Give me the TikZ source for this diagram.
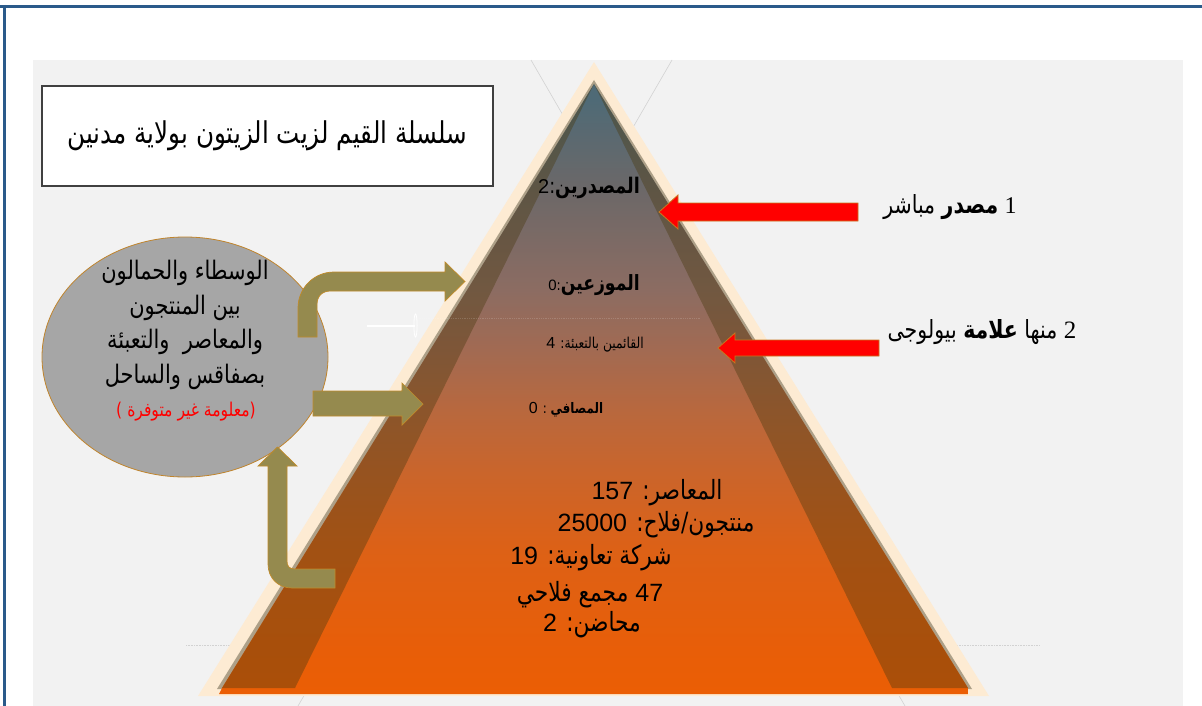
\documentclass[tikz,border=0pt]{standalone}
\usepackage{fontspec}
\setmainfont{Liberation Sans}
\newfontfamily\ar[Script=Arabic, FakeStretch=0.82]{DejaVu Sans}
\newfontfamily\lat{Liberation Sans}
\newfontfamily\tms{Liberation Serif}
\TeXXeTstate=1
\usetikzlibrary{shapes.geometric}
\definecolor{frameblue}{HTML}{2A5A8A}
\definecolor{panel}{HTML}{F2F2F2}
\definecolor{cream}{HTML}{FDEBD3}
\definecolor{tanrim}{HTML}{ADA088}
\definecolor{bandc}{HTML}{4A3A10}
\definecolor{olive}{HTML}{958A4E}
\definecolor{olivebord}{HTML}{C08A2A}
\definecolor{circfill}{HTML}{A6A6A6}
\definecolor{circbord}{HTML}{C0842C}
\definecolor{redbord}{HTML}{C8781E}
\definecolor{titlebord}{HTML}{404040}
\definecolor{pA}{HTML}{EB5E04}
\definecolor{pB}{HTML}{E85E08}
\definecolor{pC}{HTML}{DD6116}
\definecolor{pD}{HTML}{C9652C}
\definecolor{pE}{HTML}{B8683E}
\definecolor{pF}{HTML}{A26A52}
\definecolor{pG}{HTML}{8C6C62}
\definecolor{pH}{HTML}{6C6868}
\definecolor{pI}{HTML}{4F6A76}
\pgfdeclareverticalshading{pyrshade}{100bp}{color(0bp)=(pA); color(25bp)=(pA); color(28.6bp)=(pB); color(36.8bp)=(pC); color(43.4bp)=(pD); color(48.3bp)=(pE); color(53.2bp)=(pF); color(58.1bp)=(pG); color(66.3bp)=(pH); color(73.7bp)=(pI); color(75bp)=(pI); color(100bp)=(pI)}
\tikzset{
  redarrow/.style={fill=red, draw=redbord, line width=0.8pt},
  olivearrow/.style={fill=olive, draw=olivebord, line width=0.7pt},
  faint/.style={draw=gray!35, line width=0.6pt},
  txt/.style={inner sep=0pt, anchor=center},
  big/.style={font=\ar\fontsize{26.5}{30}\selectfont}
}
\begin{document}
\begin{tikzpicture}[x=1pt,y=-1pt]
\useasboundingbox (0,0) rectangle (1202,706);
\fill[white] (0,0) rectangle (1202,706);
\fill[panel] (33,60) rectangle (1183,706);
\draw[frameblue, line width=3pt] (0,6.5) -- (1202,6.5);
\draw[frameblue, line width=3pt] (4.5,5) -- (4.5,706);
% faint construction lines behind the pyramid
\draw[faint] (531,60) -- (905,706);
\draw[faint] (672,60) -- (298,706);
\draw[faint, densely dotted, line width=0.9pt] (186,645) -- (260,645);
\draw[faint, densely dotted, line width=0.9pt] (930,645) -- (1040,645);
% pyramid
\fill[cream] (594,62) -- (989,696) -- (198,696) -- cycle;
\fill[tanrim] (594,80) -- (972,689) -- (217,689) -- cycle;
\shade[shading=pyrshade] (594,84) -- (968,688) -- (968,694) -- (219,694) -- (222,688) -- cycle;
\fill[bandc, fill opacity=0.4] (594,84) -- (295,688) -- (222,688) -- cycle;
\fill[bandc, fill opacity=0.4] (594,84) -- (892,688) -- (968,688) -- cycle;
\draw[white, opacity=0.15, densely dotted, line width=0.8pt] (415,318) -- (700,318);
\draw[white, line width=1.2pt] (367,326) -- (415,326);
\draw[white, line width=0.8pt] (415.5,325.5) ellipse [x radius=1.6, y radius=11.5];
% title
\node[draw=titlebord, line width=2pt, fill=white, minimum width=451pt, minimum height=100pt, inner sep=0pt,
      font=\ar\fontsize{30}{34}\selectfont] (title) at (267.5,136) {\beginR سلسلة القيم لزيت الزيتون بولاية مدنين\endR};
% circle
\node[ellipse, draw=circbord, fill=circfill, line width=0.8pt, minimum width=286pt, minimum height=240pt, inner sep=0pt] (circ) at (185,357) {};
\node[txt, align=center, font=\ar\fontsize{25.5}{34.7}\selectfont] (circtext) at (185,325)
  {\beginR الوسطاء والحمالون\endR\\ \beginR بين المنتجون\endR\\ \beginR والمعاصر\ \ والتعبئة\endR\\ \beginR بصفاقس والساحل\endR};
\node[txt, text=red, font=\ar\fontsize{19}{22}\selectfont] (note) at (186,412) {\beginR(معلومة غير متوفرة )\endR};
% olive arrows
\draw[olivearrow] (298,337) -- (298,308) .. controls (298,288) and (314,272) .. (334,272) -- (445,272) -- (445,262)
   -- (465,281.5) -- (445,301) -- (445,291) -- (331,291) .. controls (322,291) and (317,296) .. (317,305) -- (317,337) -- cycle;
\draw[olivearrow] (313,391) -- (402,391) -- (402,383) -- (423,404) -- (402,425) -- (402,416) -- (313,416) -- cycle;
\draw[olivearrow] (277.5,447) -- (297,466) -- (287,466) -- (287,561) .. controls (287,566) and (289,569) .. (295,569)
   -- (335,569) -- (335,588) -- (292,588) .. controls (278,588) and (268,578) .. (268,564) -- (268,466) -- (258,466) -- cycle;
% red arrows
\draw[redarrow] (659,212) -- (678,195) -- (678,203) -- (858,203) -- (858,221) -- (678,221) -- (678,229) -- cycle;
\draw[redarrow] (718,348) -- (735,333) -- (735,340) -- (879,340) -- (879,356) -- (735,356) -- (735,363) -- cycle;
% right labels
\node[txt, font=\ar\fontsize{25}{28}\selectfont] (lbl1) at (950,207) {\beginR{\tms\fontsize{24}{26}\selectfont 1} {\bfseries مصدر} مباشر\endR};
\node[txt, font=\ar\fontsize{25}{28}\selectfont] (lbl2) at (982,332) {\beginR{\tms\fontsize{25}{26}\selectfont 2} منها {\bfseries علامة} بيولوجى\endR};
% pyramid labels
\node[txt, font=\ar\fontsize{21.5}{24}\selectfont] (expo) at (589,188) {\beginR{\bfseries المصدرين}:{\lat\fontsize{20}{22}\selectfont 2}\endR};
\node[txt, font=\ar\fontsize{21}{24}\selectfont] (dist) at (594,285) {\beginR{\bfseries الموزعين}{\fontsize{15}{17}\selectfont :}{\lat\fontsize{15}{16}\selectfont 0}\endR};
\node[txt, font=\ar\fontsize{15}{18}\selectfont] (pack) at (595,345) {\beginR القائمين بالتعبئة: {\lat\fontsize{16}{18}\selectfont 4}\endR};
\node[txt, font=\ar\fontsize{14.5}{17}\selectfont] (refi) at (566,410) {\beginR{\bfseries المصافي} : {\lat\fontsize{16}{18}\selectfont 0}\endR};
\node[txt, big] (mills) at (657,493) {\beginR المعاصر: {\lat\fontsize{25}{28}\selectfont 157}\endR};
\node[txt, big] (farm) at (656,525) {\beginR منتجون/فلاح: {\lat\fontsize{25}{28}\selectfont 25000}\endR};
\node[txt, big] (coop) at (591,558) {\beginR شركة تعاونية: {\lat\fontsize{25}{28}\selectfont 19}\endR};
\node[txt, big] (grp) at (590,595) {\beginR{\lat\fontsize{25}{28}\selectfont 47} مجمع فلاحي\endR};
\node[txt, big] (nurs) at (592,625) {\beginR محاضن: {\lat\fontsize{25}{28}\selectfont 2}\endR};
\end{tikzpicture}
\end{document}
